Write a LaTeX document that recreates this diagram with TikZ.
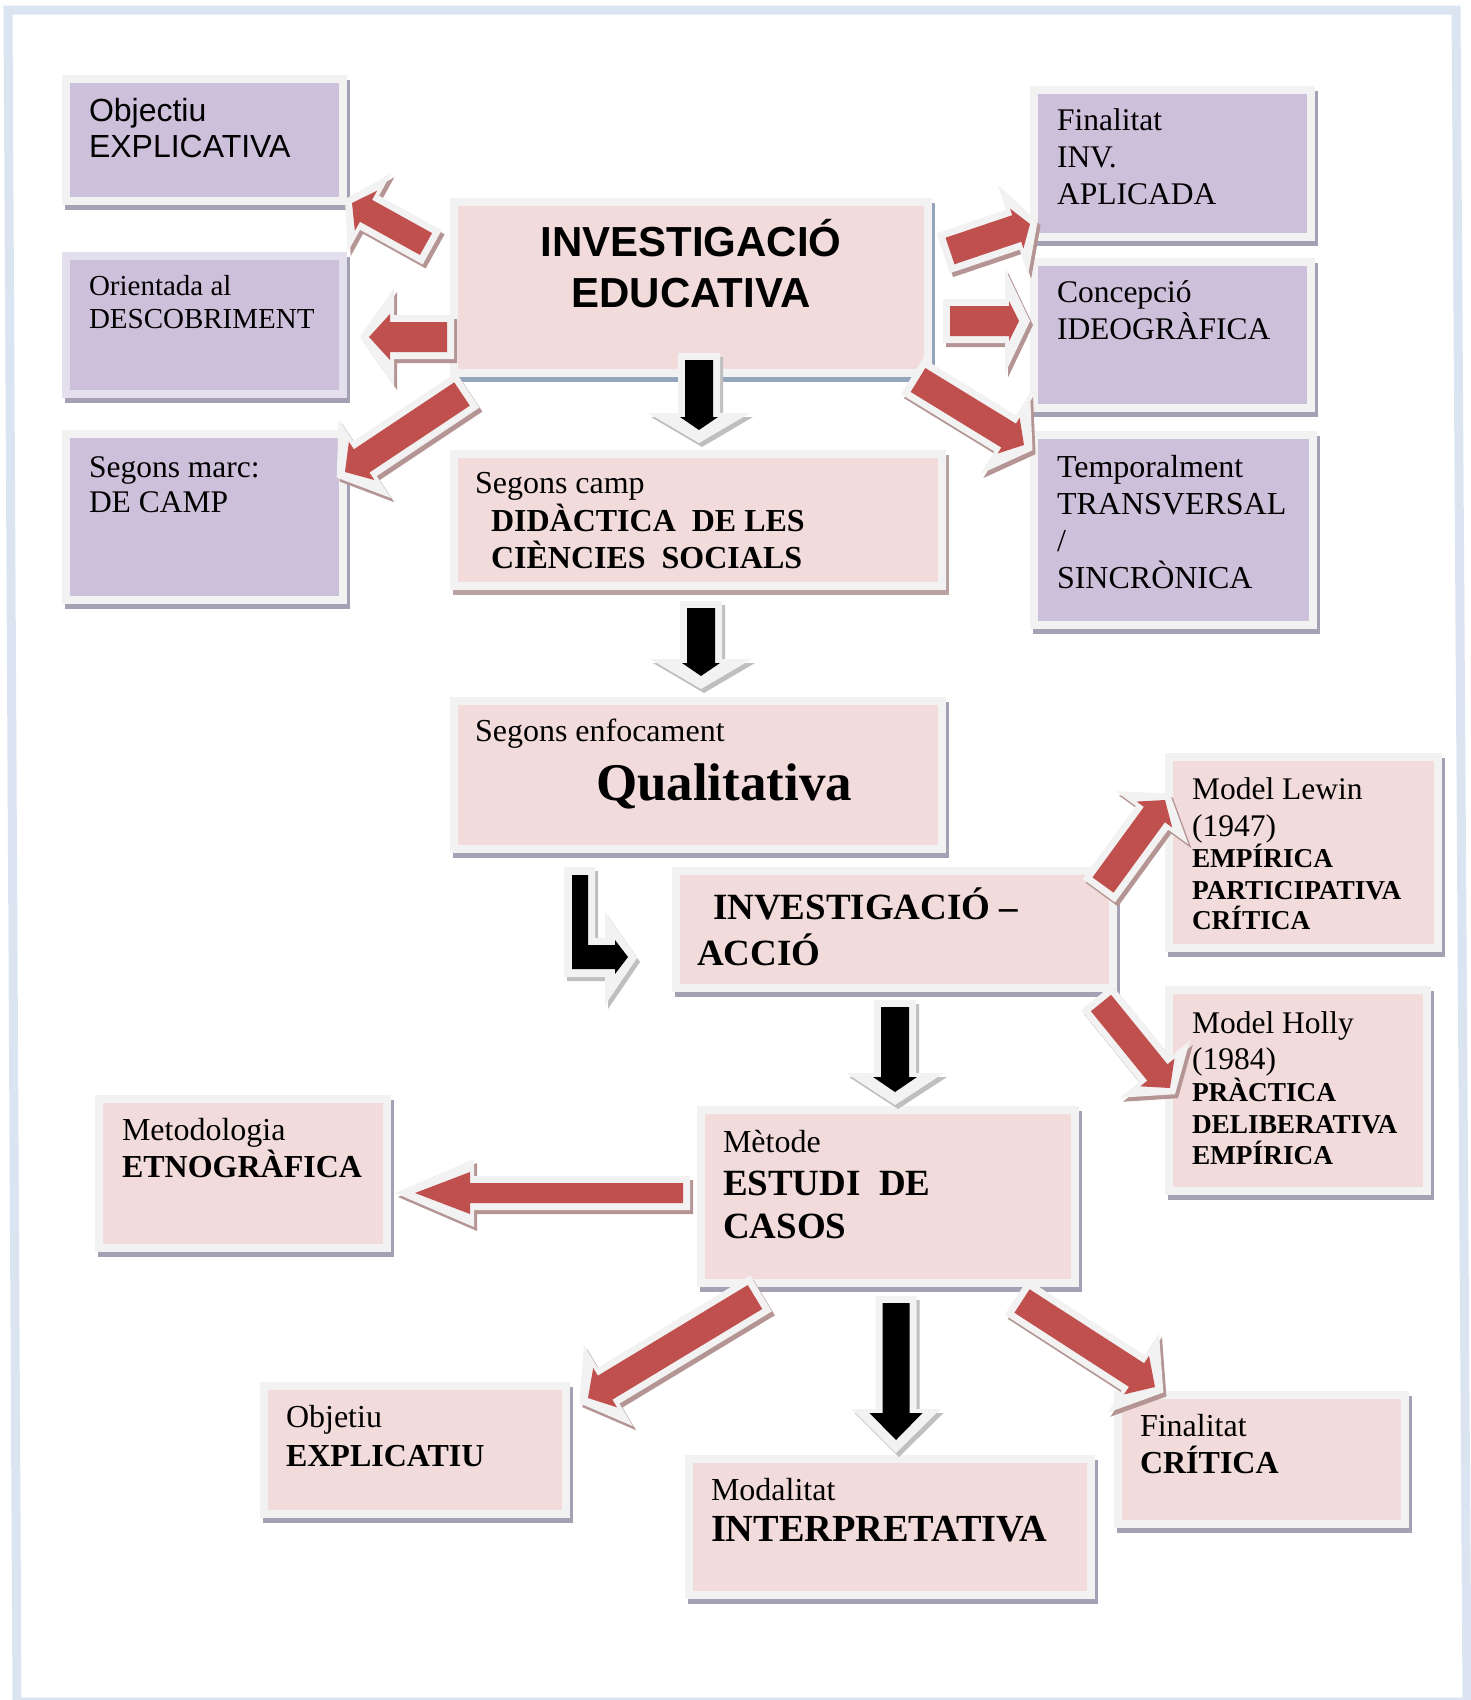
\documentclass[tikz,border=0pt]{standalone}
\usepackage{fontspec}
\setmainfont{Liberation Serif}
\newfontfamily\sansf{Liberation Sans}

\definecolor{lilac}{HTML}{CCC0DA}
\definecolor{rosy}{HTML}{F2DCDB}
\definecolor{boxline}{HTML}{F2F2F2}
\definecolor{lilacline}{HTML}{E4DFEC}
\definecolor{shpurp}{HTML}{A6A0B4}
\definecolor{shblue}{HTML}{95A6BC}
\definecolor{shbrown}{HTML}{B8A2A2}
\definecolor{arrred}{HTML}{C0504D}
\definecolor{arrline}{HTML}{F2F2F2}
\definecolor{arrshred}{HTML}{B59494}
\definecolor{arrshgray}{HTML}{BFBFBF}
\definecolor{framecol}{HTML}{DBE5F1}

% one text line: size, distance from the previous baseline, text
\newcommand{\bline}[3]{{\fontsize{#1}{#2}\selectfont\spaceskip=0pt\xspaceskip=0pt #3\par}}

% block arrow between two named coordinates
% #1 tail, #2 tip, #3 shaft width, #4 head width, #5 head length,
% #6 width of the pale outer head, #7 outer tip gap, #8 fill, #9 shadow
\newcommand{\blockarrow}[9]{%
  \pgfpointanchor{#1}{center}\pgfgetlastxy{\bax}{\bay}%
  \pgfpointanchor{#2}{center}\pgfgetlastxy{\bbx}{\bby}%
  \pgfmathsetmacro{\baL}{veclen(\bbx-\bax,\bby-\bay)}%
  \pgfmathsetmacro{\baA}{atan2(\bby-\bay,\bbx-\bax)}%
  \pgfmathsetmacro{\bas}{#3/2}%
  \pgfmathsetmacro{\bao}{#3/2+7}%
  \pgfmathsetmacro{\bah}{#4/2}%
  \pgfmathsetmacro{\baH}{#6/2}%
  \pgfmathsetmacro{\bab}{\baL-#5}%
  \pgfmathsetmacro{\baB}{\baL-#5-4}%
  \pgfmathsetmacro{\baT}{\baL+#7}%
  \begin{scope}[shift={(\bax+3pt,\bay-4pt)},rotate=\baA]
    \fill[#9] (-7,\bao) -- (\baB,\bao) -- (\baB,\baH) -- (\baT,0)
      -- (\baB,-\baH) -- (\baB,-\bao) -- (-7,-\bao) -- cycle;
  \end{scope}
  \begin{scope}[shift={(\bax,\bay)},rotate=\baA]
    \fill[arrline] (-7,\bao) -- (\baB,\bao) -- (\baB,\baH) -- (\baT,0)
      -- (\baB,-\baH) -- (\baB,-\bao) -- (-7,-\bao) -- cycle;
    \fill[#8] (0,\bas) -- (\bab,\bas) -- (\bab,\bah) -- (\baL,0)
      -- (\bab,-\bah) -- (\bab,-\bas) -- (0,-\bas) -- cycle;
  \end{scope}}

\tikzset{
  bx/.style={rectangle, draw=boxline, line width=8pt, inner sep=0pt,
    outer sep=0pt, anchor=north west, align=left,
    preaction={draw=#1, fill=#1, line width=8pt,
      transform canvas={shift={(3pt,-5pt)}}}},
  bx/.default=shpurp,
  lilacbox/.style={bx, fill=lilac},
  rosybox/.style={bx=#1, fill=rosy},
  rosybox/.default=shpurp,
}

\begin{document}
\begin{tikzpicture}[x=1pt,y=-1pt]
\fill[white] (0,0) rectangle (1471,1700);
\useasboundingbox (0,0) rectangle (1471,1700);
\draw[framecol, line width=9pt, line join=miter]
  (8,10) -- (1456,10) -- (1467,1702) -- (17,1702) -- cycle;

% ---------- boxes ----------
\node[lilacbox, text width=277pt, text height=42pt, text depth=80pt]
  (objA) at (66,79)
  {\leftskip=23pt\sansf\bline{32}{36}{Objectiu}\bline{32}{36}{EXPLICATIVA}};
\node[lilacbox, draw=lilacline, text width=277pt, text height=39pt, text depth=99pt]
  (orient) at (66,256)
  {\leftskip=23pt\bline{29}{33}{Orientada al}\bline{29}{33}{DESCOBRIMENT}};
\node[lilacbox, text width=277pt, text height=43pt, text depth=123pt]
  (marc) at (66,434)
  {\leftskip=23pt\bline{31.5}{35}{Segons marc:}\bline{31.5}{35}{DE CAMP}};

\node[rosybox=shblue, align=center, text width=474pt, text height=54pt, text depth=117pt]
  (edu) at (454,202)
  {\sansf\bfseries\bline{42}{51}{INVESTIGACIÓ}\bline{42}{51}{EDUCATIVA}};

\node[rosybox=shbrown, text width=488pt, text height=39pt, text depth=93pt]
  (camp) at (454,454)
  {\leftskip=21pt\bline{32}{38}{Segons camp}%
   \bline{32}{38}{\bfseries\hspace*{16pt}DIDÀCTICA\ \ DE LES}%
   \bline{32}{37}{\bfseries\hspace*{16pt}CIÈNCIES\ \ SOCIALS}};

\node[rosybox, text width=488pt, text height=40pt, text depth=108pt]
  (enfoc) at (454,701)
  {\leftskip=21pt\bline{32}{37}{Segons enfocament}%
   \bline{53}{59}{\bfseries\hspace*{121pt}Qualitativa}};

\node[rosybox, text width=437pt, text height=48pt, text depth=69pt]
  (iacc) at (676,871)
  {\leftskip=21pt\bfseries\bline{37}{46}{\hspace*{16pt}INVESTIGACIÓ –}\bline{37}{46}{ACCIÓ}};

\node[lilacbox, text width=277pt, text height=40pt, text depth=107pt]
  (final) at (1034,90)
  {\leftskip=23pt\bline{31.5}{37}{Finalitat}\bline{31.5}{37}{INV.}\bline{31.5}{37}{APLICADA}};
\node[lilacbox, text width=277pt, text height=40pt, text depth=106pt]
  (concep) at (1034,262)
  {\leftskip=23pt\bline{31.5}{37}{Concepció}\bline{31.5}{37}{IDEOGRÀFICA}};
\node[lilacbox, text width=279pt, text height=42pt, text depth=148pt]
  (tempo) at (1034,435)
  {\leftskip=23pt\bline{32}{37}{Temporalment}\bline{32}{37}{TRANSVERSAL}%
   \bline{32}{37}{/}\bline{32}{37}{SINCRÒNICA}};

\node[rosybox, text width=269pt, text height=42pt, text depth=149pt]
  (lewin) at (1169,757)
  {\leftskip=23pt\bline{31.5}{37}{Model Lewin}\bline{31.5}{37}{(1947)}%
   \bline{27.3}{31}{\bfseries EMPÍRICA}\bline{27.3}{32}{\bfseries PARTICIPATIVA}%
   \bline{27.3}{30}{\bfseries CRÍTICA}};
\node[rosybox, text width=258pt, text height=43pt, text depth=158pt]
  (holly) at (1169,990)
  {\leftskip=23pt\bline{31.5}{36}{Model Holly}\bline{31.5}{36}{(1984)}%
   \bline{27.3}{32}{\bfseries PRÀCTICA}\bline{27.3}{32}{\bfseries DELIBERATIVA}%
   \bline{27.3}{31}{\bfseries EMPÍRICA}};

\node[rosybox, text width=374pt, text height=42pt, text depth=131pt]
  (estudi) at (701,1110)
  {\leftskip=22pt\bline{32}{43}{Mètode}\bline{37}{43}{\bfseries ESTUDI\ \ DE}%
   \bline{37}{43}{\bfseries CASOS}};
\node[rosybox, text width=288pt, text height=41pt, text depth=108pt]
  (etno) at (99,1099)
  {\leftskip=23pt\bline{32}{37}{Metodologia}\bline{32}{37}{\bfseries ETNOGRÀFICA}};
\node[rosybox, text width=302pt, text height=41pt, text depth=87pt]
  (objet) at (264,1386)
  {\leftskip=22pt\bline{32}{39}{Objetiu}\bline{32}{39}{\bfseries EXPLICATIU}};
\node[rosybox, text width=402pt, text height=41pt, text depth=95pt]
  (modal) at (689,1459)
  {\leftskip=22pt\bline{32}{41}{Modalitat}\bline{38.3}{41}{\bfseries INTERPRETATIVA}};
\node[rosybox, text width=287pt, text height=41pt, text depth=88pt]
  (critica) at (1118,1395)
  {\leftskip=22pt\bline{32}{37}{Finalitat}\bline{32}{37}{\bfseries CRÍTICA}};

% ---------- arrow ends ----------
\coordinate (eduA0) at (426,244);   \coordinate (eduA1) at (352,203);
\coordinate (eduB0) at (447,337);   \coordinate (eduB1) at (369,337);
\coordinate (eduC0) at (462,394);   \coordinate (eduC1) at (345,472);
\coordinate (eduR10) at (950,251);  \coordinate (eduR11) at (1030,224);
\coordinate (eduR20) at (950,321);  \coordinate (eduR21) at (1019,321);
\coordinate (eduR30) at (918,380);  \coordinate (eduR31) at (1024,445);
\coordinate (eduD0) at (699,360);   \coordinate (eduD1) at (699,430);
\coordinate (campE0) at (701,608);  \coordinate (campE1) at (701,676);
\coordinate (iaccL0) at (1103,885); \coordinate (iaccL1) at (1165,800);
\coordinate (iaccH0) at (1101,1003);\coordinate (iaccH1) at (1170,1088);
\coordinate (iaccG0) at (895,1007); \coordinate (iaccG1) at (895,1092);
\coordinate (estE0) at (683,1193);  \coordinate (estE1) at (415,1193);
\coordinate (estO0) at (755,1297);  \coordinate (estO1) at (588,1398);
\coordinate (estM0) at (896,1303);  \coordinate (estM1) at (896,1440);
\coordinate (estC0) at (1022,1301); \coordinate (estC1) at (1155,1387);

% ---------- red arrows ----------
\blockarrow{eduA0}{eduA1}{25}{46}{16}{90}{8}{arrred}{arrshred}
\blockarrow{eduB0}{eduB1}{30}{46}{21}{98}{9}{arrred}{arrshred}
\blockarrow{eduC0}{eduC1}{28}{46}{20}{95}{10}{arrred}{arrshred}
\blockarrow{eduR10}{eduR11}{28}{42}{14}{95}{8}{arrred}{arrshred}
\blockarrow{eduR20}{eduR21}{30}{40}{10}{105}{11}{arrred}{arrshred}
\blockarrow{eduR30}{eduR31}{28}{42}{18}{95}{10}{arrred}{arrshred}
\blockarrow{iaccL0}{iaccL1}{26}{44}{18}{90}{8}{arrred}{arrshred}
\blockarrow{iaccH0}{iaccH1}{26}{44}{20}{90}{8}{arrred}{arrshred}
\blockarrow{estE0}{estE1}{20}{42}{55}{68}{20}{arrred}{arrshred}
\blockarrow{estO0}{estO1}{28}{46}{20}{95}{10}{arrred}{arrshred}
\blockarrow{estC0}{estC1}{28}{46}{22}{95}{10}{arrred}{arrshred}

% ---------- black arrows ----------
\blockarrow{eduD0}{eduD1}{28}{38}{13}{102}{13}{black}{arrshgray}
\blockarrow{campE0}{campE1}{28}{38}{13}{102}{13}{black}{arrshgray}
\blockarrow{iaccG0}{iaccG1}{28}{44}{15}{98}{13}{black}{arrshgray}
\blockarrow{estM0}{estM1}{27}{53}{27}{89}{13}{black}{arrshgray}

% ---------- bent arrow from the approach box to action research ----------
\fill[arrshgray, shift={(3pt,-4pt)}] (564,867) -- (595,867) -- (595,938) -- (605,938)
  -- (605,912) -- (637,958) -- (605,1005) -- (605,977) -- (564,977) -- cycle;
\fill[arrline] (564,867) -- (595,867) -- (595,938) -- (605,938)
  -- (605,912) -- (637,958) -- (605,1005) -- (605,977) -- (564,977) -- cycle;
\fill[black] (572,875) -- (588,875) -- (588,945) -- (615,945) -- (615,940)
  -- (628,957) -- (615,974) -- (615,969) -- (572,969) -- cycle;
\end{tikzpicture}
\end{document}
